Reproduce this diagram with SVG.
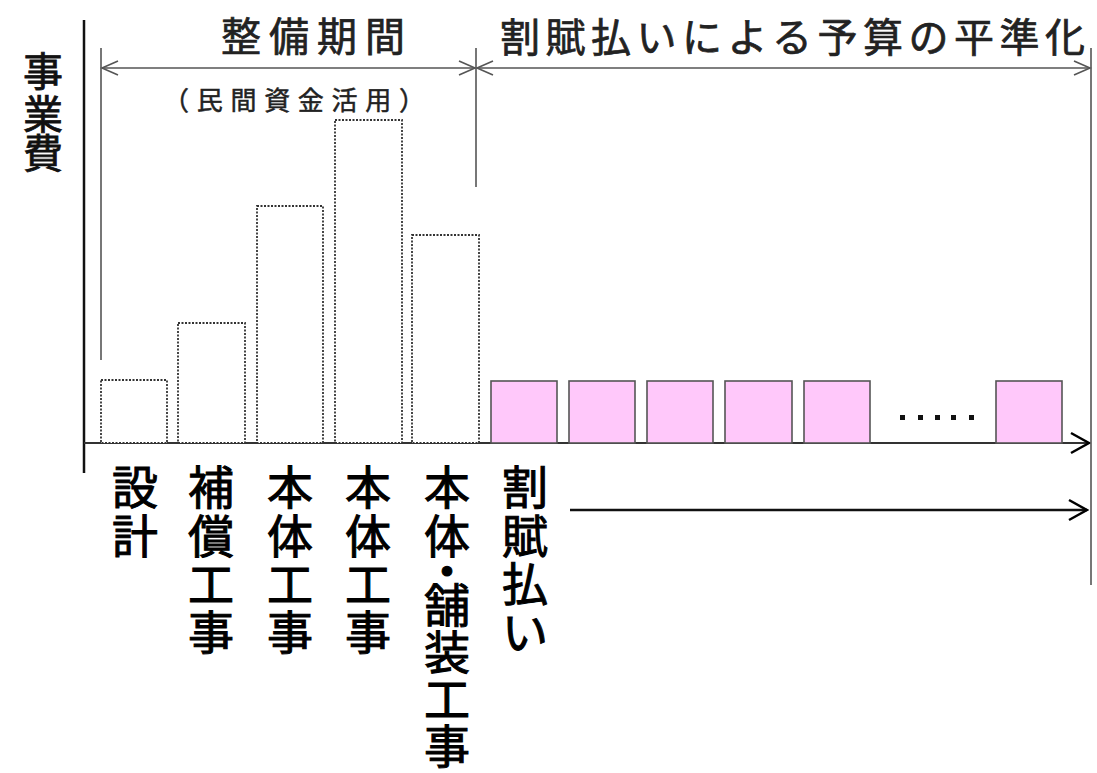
<svg xmlns="http://www.w3.org/2000/svg" width="1097" height="773" viewBox="0 0 1097 773">
<style>
text{font-family:"Noto Sans CJK JP","Noto Sans CJK SC",sans-serif;}
.top{fill:#222;stroke:#222;stroke-width:0.7;font-size:40px;}
.sub{fill:#222;stroke:#222;stroke-width:0.5;font-size:26px;}
.lbl{fill:#000;stroke:#000;stroke-width:1;font-size:46px;text-anchor:middle;}
.axisl{fill:#111;stroke:#111;stroke-width:0.8;font-size:40px;text-anchor:middle;}
.dash{fill:#fff;stroke:#333;stroke-width:1.8;stroke-dasharray:2 1.5;}
.pink{fill:#ffc8fa;stroke:#555;stroke-width:1.6;}
.gl{stroke:#555;stroke-width:1.6;fill:none;}
.bl{stroke:#111;stroke-width:2.5;fill:none;}
</style>
<defs>
<marker id="oa" viewBox="0 0 20 20" refX="18" refY="10" markerWidth="20" markerHeight="20" markerUnits="userSpaceOnUse" orient="auto-start-reverse">
<path d="M2,3 L18,10 L2,17" fill="none" stroke="#555" stroke-width="1.6"/>
</marker>
<marker id="ba" viewBox="0 0 22 24" refX="20" refY="12" markerWidth="22" markerHeight="24" markerUnits="userSpaceOnUse" orient="auto">
<path d="M2,2 L20,12 L2,22" fill="none" stroke="#000" stroke-width="2.5"/>
</marker>
</defs>
<rect width="1097" height="773" fill="#fff"/>

<g id="axes">
<line class="bl" x1="84" y1="20" x2="84" y2="473" stroke-width="3"/>
<line x1="84" y1="443" x2="1089" y2="443" stroke="#333" stroke-width="2.2" marker-end="url(#ba)"/>
</g>

<g id="axis-label">
<text class="axisl"><tspan x="43" y="86">事</tspan><tspan x="43" y="129">業</tspan><tspan x="43" y="168">費</tspan></text>
</g>

<g id="connectors">
<line class="gl" x1="101" y1="48" x2="101" y2="360"/>
<line class="gl" x1="476" y1="48" x2="476" y2="187"/>
<line class="gl" x1="1091" y1="48" x2="1091" y2="585"/>
<line class="gl" x1="102" y1="68" x2="475" y2="68" marker-start="url(#oa)" marker-end="url(#oa)"/>
<line class="gl" x1="477" y1="68" x2="1090" y2="68" marker-start="url(#oa)" marker-end="url(#oa)"/>
<line class="bl" x1="570" y1="510" x2="1087" y2="510" marker-end="url(#ba)"/>
</g>

<g id="period-label">
<text class="top" x="221" y="51" textLength="184" lengthAdjust="spacing">整備期間</text>
<text class="sub" x="163" y="110" textLength="262" lengthAdjust="spacing">（民間資金活用）</text>
</g>

<g id="leveling-label">
<text class="top" x="500" y="52" textLength="585" lengthAdjust="spacing">割賦払いによる予算の平準化</text>
</g>

<g id="construction-bars">
<rect class="dash" x="101" y="380" width="66" height="63"/>
<rect class="dash" x="178" y="323" width="67" height="120"/>
<rect class="dash" x="257" y="206" width="66" height="237"/>
<rect class="dash" x="335" y="120" width="67" height="323"/>
<rect class="dash" x="412" y="235" width="67" height="208"/>
</g>

<g id="installment-bars">
<rect class="pink" x="491" y="381" width="66" height="62"/>
<rect class="pink" x="569" y="381" width="66" height="62"/>
<rect class="pink" x="647" y="381" width="66" height="62"/>
<rect class="pink" x="725" y="381" width="67" height="62"/>
<rect class="pink" x="804" y="381" width="66" height="62"/>
<rect class="pink" x="996" y="381" width="66" height="62"/>
</g>

<g id="ellipsis" fill="#111">
<rect x="900" y="415" width="5" height="5"/>
<rect x="918" y="415" width="5" height="5"/>
<rect x="935" y="415" width="5" height="5"/>
<rect x="951" y="415" width="5" height="5"/>
<rect x="969" y="415" width="5" height="5"/>
</g>

<g id="label-design">
<text class="lbl"><tspan x="135" y="504">設</tspan><tspan x="135" y="553">計</tspan></text>
</g>
<g id="label-compensation">
<text class="lbl"><tspan x="211" y="504">補</tspan><tspan x="211" y="553">償</tspan><tspan x="211" y="601">工</tspan><tspan x="211" y="649">事</tspan></text>
</g>
<g id="label-main1">
<text class="lbl"><tspan x="290" y="504">本</tspan><tspan x="290" y="553">体</tspan><tspan x="290" y="601">工</tspan><tspan x="290" y="649">事</tspan></text>
</g>
<g id="label-main2">
<text class="lbl"><tspan x="368" y="504">本</tspan><tspan x="368" y="553">体</tspan><tspan x="368" y="601">工</tspan><tspan x="368" y="649">事</tspan></text>
</g>
<g id="label-main-paving">
<text class="lbl"><tspan x="447" y="504">本</tspan><tspan x="447" y="553">体</tspan><tspan x="447" y="588">・</tspan><tspan x="447" y="622">舗</tspan><tspan x="447" y="669">装</tspan><tspan x="447" y="716">工</tspan><tspan x="447" y="763">事</tspan></text>
</g>
<g id="label-installment">
<text class="lbl"><tspan x="525" y="504">割</tspan><tspan x="525" y="553">賦</tspan><tspan x="525" y="601">払</tspan><tspan x="525" y="649">い</tspan></text>
</g>
</svg>
